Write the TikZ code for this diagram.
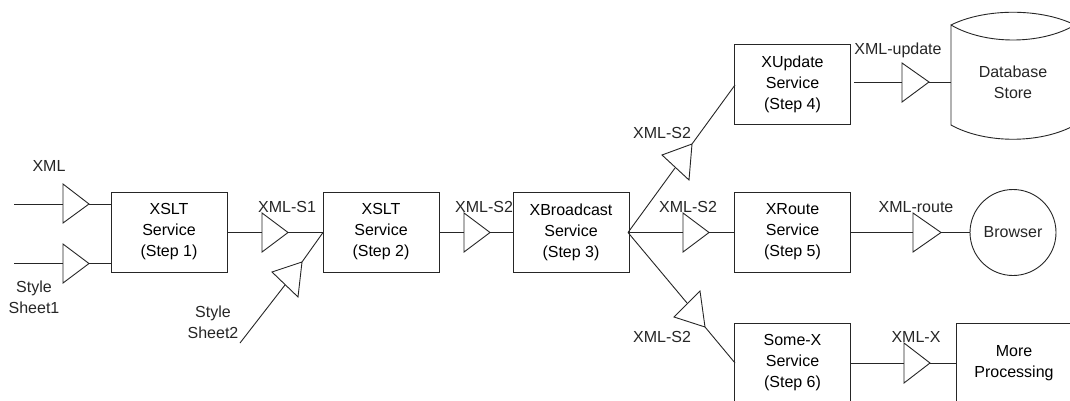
\documentclass[tikz,border=0pt]{standalone}
\usepackage{fontspec}
\setmainfont{Liberation Sans}
\newcommand{\tri}[5]{%
  \coordinate (#1-t) at (#2);
  \coordinate (#1-a) at (#3);
  \coordinate (#1-b) at (#4);
  \coordinate (#1-m) at (#5);
  \draw[wire] (#1-t) -- (#1-a) -- (#1-b) -- cycle;
}
\tikzset{
  wire/.style={line width=0.9pt,black!85,line join=miter},
  svc/.style={draw=black!85,line width=0.9pt,fill=white,minimum width=116pt,minimum height=80pt,inner sep=0pt,align=center,font=\fontsize{16}{21}\selectfont},
  lbl/.style={inner sep=0pt,align=center,font=\fontsize{16}{21}\selectfont,text=black!85},
}
\begin{document}
\begin{tikzpicture}[x=1pt,y=-1pt]
\useasboundingbox (0,0) rectangle (1070,401);
\fill[white] (0,0) rectangle (1070,401);
\clip (0,0) rectangle (1070,401);
% boxes
\node[svc] (s1) at (169,232) {XSLT\\Service\\(Step 1)};
\node[svc] (s2) at (381,232) {XSLT\\Service\\(Step 2)};
\node[svc] (s3) at (571,232) {XBroadcast\\Service\\(Step 3)};
\node[svc] (s4) at (792.5,84.5) {XUpdate\\Service\\(Step 4)};
\node[svc] (s5) at (792.5,232) {XRoute\\Service\\(Step 5)};
\node[svc] (s6) at (792.5,363) {Some-X\\Service\\(Step 6)};
\node[svc] (more) at (1014,363) {More\\Processing};
\node[draw=black!85,line width=0.9pt,circle,minimum size=86pt,inner sep=0pt,font=\fontsize{16}{21}\selectfont,text=black!85] (browser) at (1013,232.5) {Browser};
% database
\draw[wire] (951,25) .. controls (985,8) and (1041,8) .. (1075,25)
  .. controls (1041,45) and (985,45) .. (951,25) -- (951,125)
  .. controls (985,144) and (1041,144) .. (1075,125);
\node[lbl] (db) at (1013,82) {Database\\Store};
\coordinate (db-w) at (951,82);
% free ends
\coordinate (in1) at (14,204);
\coordinate (in2) at (14,263.5);
\coordinate (in3) at (240,343);
\coordinate (out4) at (854,82);
\coordinate (hub3) at (628,232.5);
\coordinate (hub2) at (323,232.5);
\coordinate (s4w) at (735,85);
\coordinate (s6w) at (735,363);
% triangles: tip, base corners, base midpoint
\tri{t1}{89,204}{63,184}{63,223}{63,204}
\tri{t2}{89,263.5}{63,244}{63,283}{63,263.5}
\tri{t3}{288,232.5}{262,213}{262,252}{262,232.5}
\tri{t4}{302,262}{272,272}{298,297}{285,285}
\tri{t5}{490,232.5}{464,213}{464,252}{464,232.5}
\tri{t6}{692,144}{662,155}{689,180}{675,168}
\tri{t7}{709,232.5}{683,213}{683,252}{683,232.5}
\tri{t8}{705,327}{674,317}{700,291}{687,303}
\tri{t9}{929,82}{902,63}{902,102}{902,82}
\tri{t10}{941,232.5}{913,213}{913,252}{913,232.5}
\tri{t11}{930,363}{904,343}{904,383}{904,363}
% connectors
\draw[wire] (in1) -- (t1-m);
\draw[wire] (t1-t) -- (s1.west |- t1-t);
\draw[wire] (in2) -- (t2-m);
\draw[wire] (t2-t) -- (s1.west |- t2-t);
\draw[wire] (s1.east |- t3-t) -- (t3-m);
\draw[wire] (t3-t) -- (hub2);
\draw[wire] (in3) -- (t4-m);
\draw[wire] (t4-t) -- (hub2);
\draw[wire] (s2.east |- t5-t) -- (t5-m);
\draw[wire] (t5-t) -- (s3.west |- t5-t);
\draw[wire] (hub3) -- (t6-m);
\draw[wire] (t6-t) -- (s4w);
\draw[wire] (hub3) -- (t7-m);
\draw[wire] (t7-t) -- (s5.west |- t7-t);
\draw[wire] (hub3) -- (t8-m);
\draw[wire] (t8-t) -- (s6w);
\draw[wire] (out4) -- (t9-m);
\draw[wire] (t9-t) -- (db-w);
\draw[wire] (s5.east |- t10-t) -- (t10-m);
\draw[wire] (t10-t) -- (browser.west);
\draw[wire] (s6.east |- t11-t) -- (t11-m);
\draw[wire] (t11-t) -- (more.west |- t11-t);
% labels
\node[lbl] (l1) at (49,166) {XML};
\node[lbl] (l2) at (34,297) {Style\\Sheet1};
\node[lbl] (l3) at (287,207) {XML-S1};
\node[lbl] (l4) at (213,322) {Style\\Sheet2};
\node[lbl] (l5) at (484,207) {XML-S2};
\node[lbl] (l6) at (662,133) {XML-S2};
\node[lbl] (l7) at (898,50) {XML-update};
\node[lbl] (l8) at (688,207) {XML-S2};
\node[lbl] (l9) at (916,207) {XML-route};
\node[lbl] (l10) at (662,337) {XML-S2};
\node[lbl] (l11) at (916,337) {XML-X};
\end{tikzpicture}
\end{document}
